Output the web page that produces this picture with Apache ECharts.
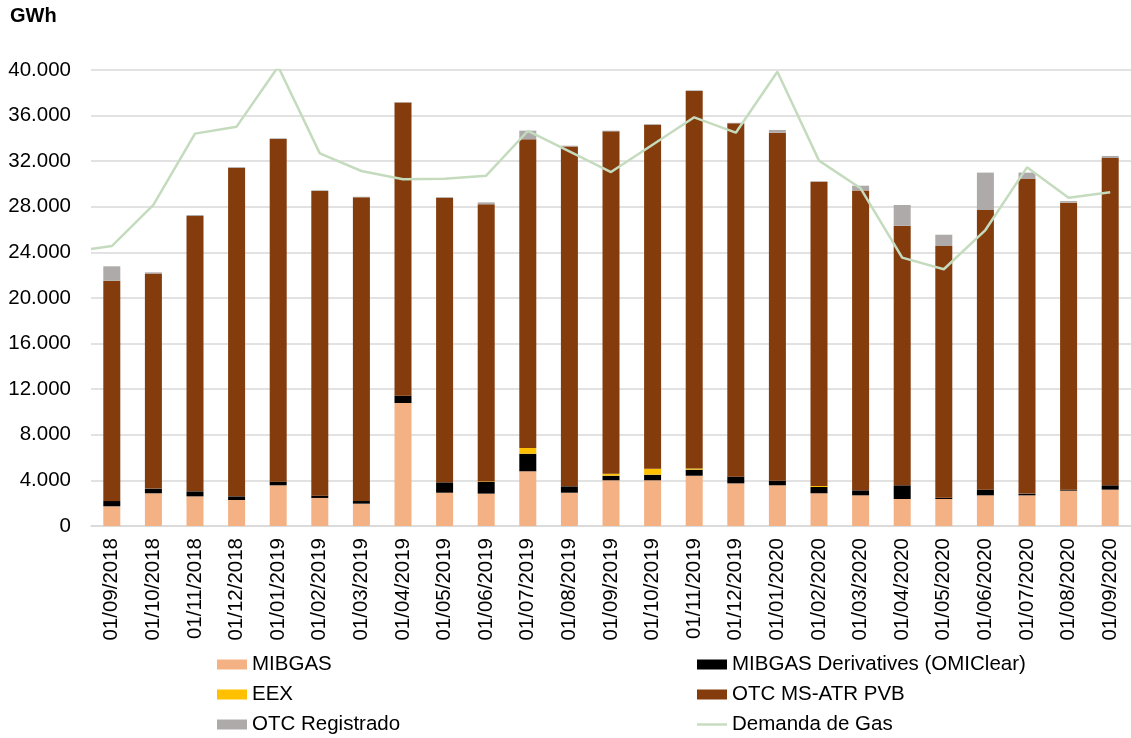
<!DOCTYPE html>
<html>
<head>
<meta charset="utf-8">
<script src="https://cdn.jsdelivr.net/npm/echarts@6/dist/echarts.min.js"></script>
<style>html,body{margin:0;padding:0;background:#fff}#c{width:1131px;height:738px}</style>
</head>
<body>
<div id="c"></div>
<script>
var categories = ['01/09/2018','01/10/2018','01/11/2018','01/12/2018','01/01/2019','01/02/2019','01/03/2019','01/04/2019','01/05/2019','01/06/2019','01/07/2019','01/08/2019','01/09/2019','01/10/2019','01/11/2019','01/12/2019','01/01/2020','01/02/2020','01/03/2020','01/04/2020','01/05/2020','01/06/2020','01/07/2020','01/08/2020','01/09/2020'];
var mibgas = [1730,2870,2600,2280,3570,2460,1960,10790,2920,2840,4800,2920,4010,4010,4410,3740,3570,2870,2690,2370,2370,2690,2690,3100,3190];
var derivatives = [460,410,440,320,320,200,230,640,910,1020,1540,560,400,490,530,590,410,550,440,1200,110,500,150,90,380];
var eex = [0,0,0,0,0,0,0,0,0,50,500,0,180,530,110,0,0,90,0,0,0,0,0,0,0];
var otcMsAtr = [19330,18870,24150,28830,30060,26730,26640,25710,24970,24310,27080,29820,30030,30170,33110,30990,30520,26690,26310,22770,22080,24530,27600,25170,28710];
var otcRegistrado = [1260,100,90,60,60,60,50,50,60,170,760,60,60,60,60,50,240,50,410,1820,990,3280,560,140,180];
// demand: first value sits at the left edge of the plot (half a category before the first month)
var demandaStart = 24300;
var demanda = [24560,28160,34420,35030,40290,32690,31140,30410,30450,30730,34650,32870,31050,33450,35850,34500,39850,32050,29620,23540,22520,25960,31460,28800,29270];
var yTicks = {min:0, max:40000, interval:4000};

var demandaData = [[-0.5, demandaStart]].concat(demanda.map(function(v,i){return [i,v];}));
var font = "'Liberation Sans', Arial, sans-serif";
function fmt(v){ return v === 0 ? '0' : String(v).replace(/\B(?=(\d{3})+(?!\d))/g,'.'); }

var chart = echarts.init(document.getElementById('c'), null, {renderer:'canvas'});
chart.setOption({
  animation:false,
  textStyle:{fontFamily:font},
  title:{text:'GWh', left:10, top:6, padding:0, textStyle:{fontFamily:font, fontSize:20, fontWeight:'bold', color:'#000'}},
  grid:{left:91, right:-5, top:70, bottom:212, containLabel:false},
  legend:[
    {orient:'vertical', left:217, top:654, padding:0, itemGap:9, itemWidth:30, itemHeight:10,
     textStyle:{fontFamily:font, fontSize:20.5, color:'#000', lineHeight:20},
     data:[{name:'MIBGAS',icon:'rect'},{name:'EEX',icon:'rect'},{name:'OTC Registrado',icon:'rect'}]},
    {orient:'vertical', left:697, top:654, padding:0, itemGap:9, itemWidth:30, itemHeight:10,
     textStyle:{fontFamily:font, fontSize:20.5, color:'#000', lineHeight:20},
     data:[{name:'MIBGAS Derivatives (OMIClear)',icon:'rect'},{name:'OTC MS-ATR PVB',icon:'rect'},
           {name:'Demanda de Gas', icon:'path://M0,0M0,3.8L30,3.8L30,6.2L0,6.2ZM30,10'}]}
  ],
  xAxis:[
    {type:'category', data:categories, boundaryGap:true,
     axisLine:{lineStyle:{color:'#d9d9d9', width:1.5}}, axisTick:{show:false},
     axisLabel:{rotate:90, margin:12, fontSize:20.5, color:'#000', fontFamily:font, interval:0}},
    {type:'value', min:-0.5, max:24.5, show:false}
  ],
  yAxis:{type:'value', min:yTicks.min, max:yTicks.max, interval:yTicks.interval,
    axisLine:{show:false}, axisTick:{show:false},
    splitLine:{lineStyle:{color:'#d9d9d9', width:1.5}},
    axisLabel:{margin:20, fontSize:20.5, color:'#000', fontFamily:font, formatter:fmt}},
  series:[
    {name:'MIBGAS', type:'bar', stack:'t', data:mibgas, barWidth:17, itemStyle:{color:'#f4b183'}},
    {name:'MIBGAS Derivatives (OMIClear)', type:'bar', stack:'t', data:derivatives, barWidth:17, itemStyle:{color:'#000000'}},
    {name:'EEX', type:'bar', stack:'t', data:eex, barWidth:17, itemStyle:{color:'#ffc000'}},
    {name:'OTC MS-ATR PVB', type:'bar', stack:'t', data:otcMsAtr, barWidth:17, itemStyle:{color:'#843c0c'}},
    {name:'OTC Registrado', type:'bar', stack:'t', data:otcRegistrado, barWidth:17, itemStyle:{color:'#aeaaaa'}},
    {name:'Demanda de Gas', type:'line', xAxisIndex:1, yAxisIndex:0, data:demandaData, symbol:'none',
     lineStyle:{color:'#c5dbbe', width:2.5}, itemStyle:{color:'#c5dbbe'}, z:5}
  ]
});
</script>
</body>
</html>
